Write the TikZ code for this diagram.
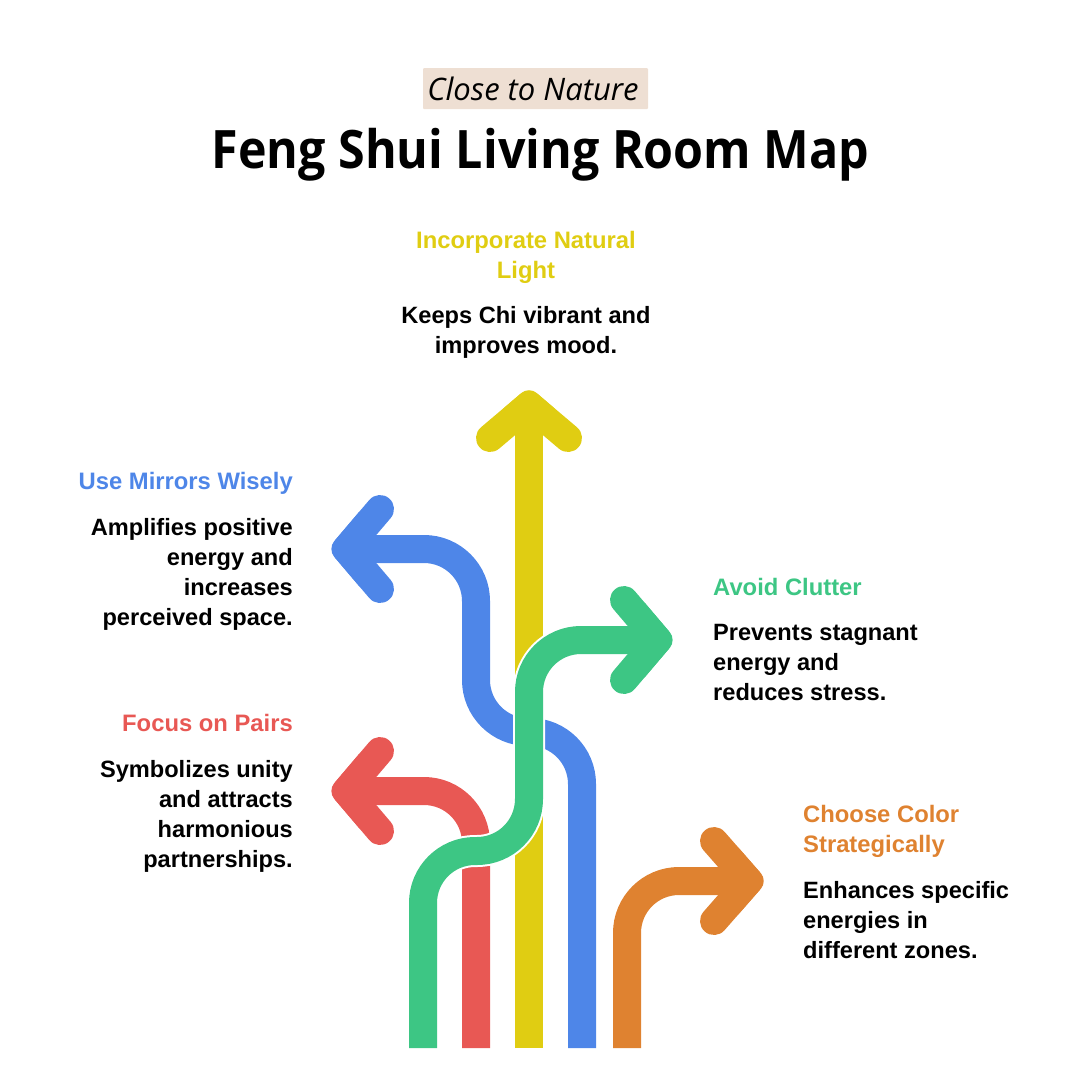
\documentclass[tikz,border=0pt]{standalone}
\usepackage{fontspec}
\setmainfont{Liberation Sans}
\newfontfamily\tagfont{Open Sans}
\newfontfamily\titlefont[FakeStretch=0.913]{Open Sans}
\usepackage{xcolor}
\definecolor{lightc}{HTML}{E0CD12}
\definecolor{mirrorc}{HTML}{4E86E8}
\definecolor{clutterc}{HTML}{3DC684}
\definecolor{pairc}{HTML}{E85854}
\definecolor{colorc}{HTML}{DF8230}
\definecolor{tagc}{HTML}{EEDFD3}
\tikzstyle{band} = [line width=28pt, rounded corners=52pt]
\tikzstyle{halo} = [line width=32pt, rounded corners=52pt, white]
\tikzstyle{head} = [line width=28pt, line cap=round, line join=round]
\tikzstyle{tip} = [rounded corners=10pt]
\tikzstyle{heading} = [inner sep=0pt, font=\fontsize{23.8}{30}\selectfont\bfseries]
\tikzstyle{body} = [inner sep=0pt, font=\fontsize{23.6}{30}\selectfont\bfseries]
\begin{document}
\begin{tikzpicture}[x=1pt, y=-1pt]
\useasboundingbox (0,0) rectangle (1080,1080);
\node[fill=tagc, rounded corners=1pt, minimum width=225pt, minimum height=41pt, inner sep=0pt] (tag) at (535.5,88.5)
    {\hspace*{-5pt}\tagfont\itshape\fontsize{31}{36}\selectfont Close to Nature};
\node[inner sep=0pt, font=\titlefont\fontsize{53}{60}\selectfont\bfseries] (title) at (540.5,155) {Feng Shui Living Room Map};

\draw[band, lightc] (529,1048) -- (529,405);
\draw[head, lightc] (490,438) -- (529,405) -- (568,438);
\fill[tip, lightc] (497,414) -- (529,386.4) -- (561,414) -- cycle;

\draw[band, mirrorc] (346,549) -- (476,549) -- (476,732) -- (582,732) -- (582,1048);
\draw[head, mirrorc] (380,509) -- (346,549) -- (380,589);
\fill[tip, mirrorc] (365,505) -- (327.6,549) -- (365,593) -- cycle;

\draw[band, pairc] (346,791) -- (476,791) -- (476,1048);
\draw[head, pairc] (380,751) -- (346,791) -- (380,831);
\fill[tip, pairc] (365,747) -- (327.6,791) -- (365,835) -- cycle;

\draw[halo] (423,1048) -- (423,851) -- (529,851) -- (529,640) -- (640,640);
\draw[band, clutterc] (423,1048) -- (423,851) -- (529,851) -- (529,640) -- (658,640);
\draw[head, clutterc] (624,600) -- (658,640) -- (624,680);
\fill[tip, clutterc] (639,596) -- (676.4,640) -- (639,684) -- cycle;

\draw[band, colorc] (627,1048) -- (627,881) -- (749,881);
\draw[head, colorc] (714,841) -- (749,881) -- (714,921);
\fill[tip, colorc] (732.6,841) -- (767.6,881) -- (732.6,921) -- cycle;

\node[heading, lightc, align=center, anchor=north] (lighthead) at (526,231) {Incorporate Natural\\Light};
\node[body, align=center, anchor=north] (lighttext) at (526,306) {Keeps Chi vibrant and\\improves mood.};
\node[heading, mirrorc, align=right, anchor=north east] (mirrorhead) at (293,472) {Use Mirrors Wisely};
\node[body, align=right, anchor=north east] (mirrortext) at (293,518) {Amplifies positive\\energy and\\increases\\perceived space.};
\node[heading, pairc, align=right, anchor=north east] (pairhead) at (293,714) {Focus on Pairs};
\node[body, align=right, anchor=north east] (pairtext) at (293,760) {Symbolizes unity\\and attracts\\harmonious\\partnerships.};
\node[heading, clutterc, align=left, anchor=north west] (clutterhead) at (713,578) {Avoid Clutter};
\node[body, align=left, anchor=north west] (cluttertext) at (713,624) {Prevents stagnant\\energy and\\reduces stress.};
\node[heading, colorc, align=left, anchor=north west] (colorhead) at (803,805) {Choose Color\\Strategically};
\node[body, align=left, anchor=north west] (colortext) at (803,881) {Enhances specific\\energies in\\different zones.};
\end{tikzpicture}
\end{document}
